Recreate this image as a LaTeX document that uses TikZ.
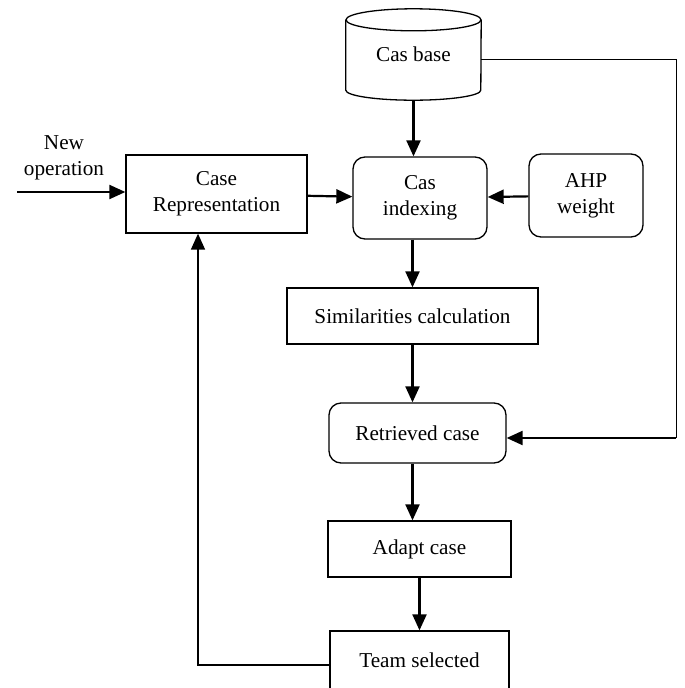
\documentclass[tikz,border=0pt]{standalone}
\usepackage{fontspec}
\setmainfont{Liberation Serif}
\usetikzlibrary{arrows.meta}

\begin{document}
\begin{tikzpicture}[
  x=1pt, y=-1pt,
  >={Triangle[length=16pt,width=14pt]},
  font=\fontsize{21.2}{26}\selectfont,
  box/.style  = {draw, line width=1.3pt, align=center, inner sep=2pt},
  rbox/.style = {box, rounded corners=12pt},
  flow/.style = {->, line width=2.2pt},
  wire/.style = {line width=1pt}
]

\useasboundingbox (0,0) rectangle (685,688);

% ---- case base (cylinder) ----
\node[minimum width=135, minimum height=91, inner sep=0pt] (base) at (413.5,54.5) {Cas base};
\draw[line width=1.3pt] ([yshift=-11pt]base.north) ellipse [x radius=67.5, y radius=11];
\draw[line width=1.3pt] ([yshift=-11pt]base.north west) -- ([yshift=10pt]base.south west)
  arc[start angle=180, end angle=0, x radius=67.5, y radius=10] -- ([yshift=-11pt]base.north east);

% ---- nodes ----
\node[align=center] (newop) at (64,158) {New\\operation};
\node[box, minimum width=181, minimum height=78] (rep) at (216.5,194) {Case\\Representation};
\node[rbox, minimum width=134, minimum height=82] (idx) at (420,198) {Cas\\indexing};
\node[rbox, minimum width=114, minimum height=83] (ahp) at (586,195.5) {AHP\\weight};
\node[box, minimum width=251, minimum height=56] (sim) at (412.5,316) {Similarities calculation};
\node[rbox, minimum width=177, minimum height=60] (ret) at (417.5,433) {Retrieved case};
\node[box, minimum width=183, minimum height=56] (adapt) at (419.5,549) {Adapt case};
\node[box, minimum width=179, minimum height=58] (team) at (419.5,660) {Team selected};

\coordinate (start) at (17,192);
\coordinate (rail) at (676,438);
\coordinate (loop) at (198,665);

% ---- arrows ----
\draw[flow] (start) -- (start -| rep.west);
\draw[flow] (rep) -- (idx);
\draw[flow] (ahp) -- (idx);
\draw[flow] (base.south) -- (base.south |- idx.north);
\draw[flow] (sim.north |- idx.south) -- (sim.north);
\draw[flow] (sim) -- (sim |- ret.north);
\draw[flow] (ret.south -| sim) -- (sim |- adapt.north);
\draw[flow] (adapt) -- (team);

% base -> retrieved case (right side)
\draw[wire] ([yshift=-5pt]base.east) -| (rail);
\draw[flow] (rail) -- (rail -| ret.east);

% team selected -> back to representation
\draw[flow, line width=1.5pt] (team.west |- loop) -- (loop) -- (loop |- rep.south);

\end{tikzpicture}
\end{document}
